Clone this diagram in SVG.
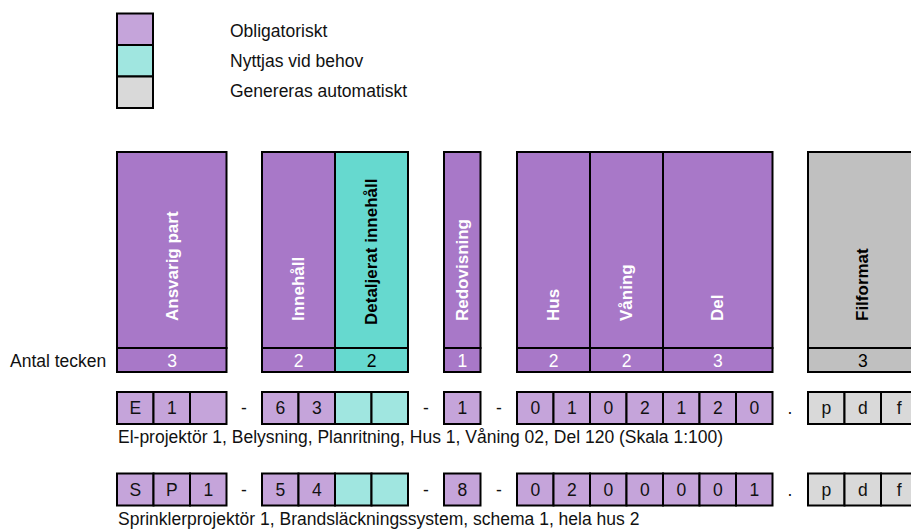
<svg xmlns="http://www.w3.org/2000/svg" width="911" height="529" viewBox="0 0 911 529">
  <style>
    text { font-family: "Liberation Sans", Arial, sans-serif; font-size: 17.5px; fill: #111; }
    .box { stroke: #000; stroke-width: 2; }
    .hp { fill: #A878C8; }
    .ht { fill: #66D9CF; }
    .hg { fill: #C0C0C0; }
    .cp { fill: #C5A4DA; }
    .ct { fill: #A0E6E0; }
    .cg { fill: #D9D9D9; }
    .vl { font-weight: bold; font-size: 17px; fill: #fff; dominant-baseline: central; }
    .vd { fill: #000; }
    .num { text-anchor: middle; fill: #fff; }
    .numd { fill: #000; }
    .c { text-anchor: middle; }
  </style>

  <!-- legend -->
  <g id="legend">
    <rect class="box cp" x="117" y="13.5" width="36" height="31.5"/>
    <rect class="box ct" x="117" y="45" width="36" height="31.5"/>
    <rect class="box cg" x="117" y="76.5" width="36" height="31.5"/>
    <text x="230" y="37">Obligatoriskt</text>
    <text x="230" y="67">Nyttjas vid behov</text>
    <text x="230" y="97">Genereras automatiskt</text>
  </g>

  <text id="antal-tecken" x="10" y="367">Antal tecken</text>

  <!-- field headers: name above, number of characters below -->
  <g id="ansvarig-part">
    <rect class="box hp" x="117" y="152" width="109.5" height="196"/>
    <rect class="box hp" x="117" y="348" width="109.5" height="24"/>
    <text class="vl" transform="translate(172,321) rotate(-90)">Ansvarig part</text>
    <text class="num" x="172" y="367">3</text>
  </g>
  <g id="innehall">
    <rect class="box hp" x="262" y="152" width="73" height="196"/>
    <rect class="box hp" x="262" y="348" width="73" height="24"/>
    <text class="vl" transform="translate(298.5,321) rotate(-90)">Innehåll</text>
    <text class="num" x="298.5" y="367">2</text>
  </g>
  <g id="detaljerat-innehall">
    <rect class="box ht" x="335" y="152" width="73" height="196"/>
    <rect class="box ht" x="335" y="348" width="73" height="24"/>
    <text class="vl vd" transform="translate(371.5,325) rotate(-90)">Detaljerat innehåll</text>
    <text class="num numd" x="371.5" y="367">2</text>
  </g>
  <g id="redovisning">
    <rect class="box hp" x="444" y="152" width="36.5" height="196"/>
    <rect class="box hp" x="444" y="348" width="36.5" height="24"/>
    <text class="vl" transform="translate(462.3,321) rotate(-90)">Redovisning</text>
    <text class="num" x="462.3" y="367">1</text>
  </g>
  <g id="hus">
    <rect class="box hp" x="517" y="152" width="73" height="196"/>
    <rect class="box hp" x="517" y="348" width="73" height="24"/>
    <text class="vl" transform="translate(553.5,321) rotate(-90)">Hus</text>
    <text class="num" x="553.5" y="367">2</text>
  </g>
  <g id="vaning">
    <rect class="box hp" x="590" y="152" width="73" height="196"/>
    <rect class="box hp" x="590" y="348" width="73" height="24"/>
    <text class="vl" transform="translate(626.5,321) rotate(-90)">Våning</text>
    <text class="num" x="626.5" y="367">2</text>
  </g>
  <g id="del">
    <rect class="box hp" x="663" y="152" width="109.5" height="196"/>
    <rect class="box hp" x="663" y="348" width="109.5" height="24"/>
    <text class="vl" transform="translate(717.8,321) rotate(-90)">Del</text>
    <text class="num" x="717.8" y="367">3</text>
  </g>
  <g id="filformat">
    <rect class="box hg" x="808" y="152" width="109.5" height="196"/>
    <rect class="box hg" x="808" y="348" width="109.5" height="24"/>
    <text class="vl vd" transform="translate(862.8,321) rotate(-90)">Filformat</text>
    <text class="num numd" x="862.8" y="367">3</text>
  </g>

  <!-- example 1 -->
  <g id="exempel-1">
    <g class="box">
      <rect class="cp" x="117" y="392" width="36.5" height="32"/>
      <rect class="cp" x="153.5" y="392" width="36.5" height="32"/>
      <rect class="cp" x="190" y="392" width="36.5" height="32"/>
      <rect class="cp" x="262" y="392" width="36.5" height="32"/>
      <rect class="cp" x="298.5" y="392" width="36.5" height="32"/>
      <rect class="ct" x="335" y="392" width="36.5" height="32"/>
      <rect class="ct" x="371.5" y="392" width="36.5" height="32"/>
      <rect class="cp" x="444" y="392" width="36.5" height="32"/>
      <rect class="cp" x="517" y="392" width="36.5" height="32"/>
      <rect class="cp" x="553.5" y="392" width="36.5" height="32"/>
      <rect class="cp" x="590" y="392" width="36.5" height="32"/>
      <rect class="cp" x="626.5" y="392" width="36.5" height="32"/>
      <rect class="cp" x="663" y="392" width="36.5" height="32"/>
      <rect class="cp" x="699.5" y="392" width="36.5" height="32"/>
      <rect class="cp" x="736" y="392" width="36.5" height="32"/>
      <rect class="cg" x="808" y="392" width="36.5" height="32"/>
      <rect class="cg" x="844.5" y="392" width="36.5" height="32"/>
      <rect class="cg" x="881" y="392" width="36.5" height="32"/>
    </g>
    <g class="c">
      <text x="135.3" y="414">E</text>
      <text x="171.8" y="414">1</text>
      <text x="244" y="414">-</text>
      <text x="280.3" y="414">6</text>
      <text x="316.8" y="414">3</text>
      <text x="426" y="414">-</text>
      <text x="462.3" y="414">1</text>
      <text x="499" y="414">-</text>
      <text x="535.3" y="414">0</text>
      <text x="571.8" y="414">1</text>
      <text x="608.3" y="414">0</text>
      <text x="644.8" y="414">2</text>
      <text x="681.3" y="414">1</text>
      <text x="717.8" y="414">2</text>
      <text x="754.3" y="414">0</text>
      <text x="790" y="414">.</text>
      <text x="826.3" y="414">p</text>
      <text x="862.8" y="414">d</text>
      <text x="899.3" y="414">f</text>
    </g>
    <text x="118" y="443">El-projektör 1, Belysning, Planritning, Hus 1, Våning 02, Del 120 (Skala 1:100)</text>
  </g>

  <!-- example 2 -->
  <g id="exempel-2">
    <g class="box">
      <rect class="cp" x="117" y="473.5" width="36.5" height="32"/>
      <rect class="cp" x="153.5" y="473.5" width="36.5" height="32"/>
      <rect class="cp" x="190" y="473.5" width="36.5" height="32"/>
      <rect class="cp" x="262" y="473.5" width="36.5" height="32"/>
      <rect class="cp" x="298.5" y="473.5" width="36.5" height="32"/>
      <rect class="ct" x="335" y="473.5" width="36.5" height="32"/>
      <rect class="ct" x="371.5" y="473.5" width="36.5" height="32"/>
      <rect class="cp" x="444" y="473.5" width="36.5" height="32"/>
      <rect class="cp" x="517" y="473.5" width="36.5" height="32"/>
      <rect class="cp" x="553.5" y="473.5" width="36.5" height="32"/>
      <rect class="cp" x="590" y="473.5" width="36.5" height="32"/>
      <rect class="cp" x="626.5" y="473.5" width="36.5" height="32"/>
      <rect class="cp" x="663" y="473.5" width="36.5" height="32"/>
      <rect class="cp" x="699.5" y="473.5" width="36.5" height="32"/>
      <rect class="cp" x="736" y="473.5" width="36.5" height="32"/>
      <rect class="cg" x="808" y="473.5" width="36.5" height="32"/>
      <rect class="cg" x="844.5" y="473.5" width="36.5" height="32"/>
      <rect class="cg" x="881" y="473.5" width="36.5" height="32"/>
    </g>
    <g class="c">
      <text x="135.3" y="495.5">S</text>
      <text x="171.8" y="495.5">P</text>
      <text x="208.3" y="495.5">1</text>
      <text x="244" y="495.5">-</text>
      <text x="280.3" y="495.5">5</text>
      <text x="316.8" y="495.5">4</text>
      <text x="426" y="495.5">-</text>
      <text x="462.3" y="495.5">8</text>
      <text x="499" y="495.5">-</text>
      <text x="535.3" y="495.5">0</text>
      <text x="571.8" y="495.5">2</text>
      <text x="608.3" y="495.5">0</text>
      <text x="644.8" y="495.5">0</text>
      <text x="681.3" y="495.5">0</text>
      <text x="717.8" y="495.5">0</text>
      <text x="754.3" y="495.5">1</text>
      <text x="790" y="495.5">.</text>
      <text x="826.3" y="495.5">p</text>
      <text x="862.8" y="495.5">d</text>
      <text x="899.3" y="495.5">f</text>
    </g>
    <text x="118" y="525">Sprinklerprojektör 1, Brandsläckningssystem, schema 1, hela hus 2</text>
  </g>
</svg>
